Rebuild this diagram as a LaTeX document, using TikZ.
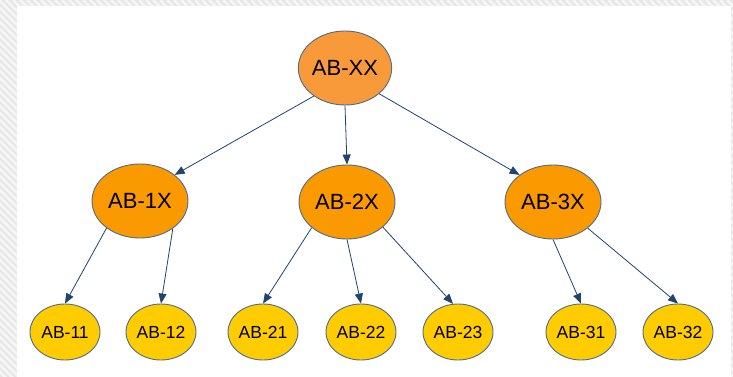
\documentclass[tikz,border=0pt]{standalone}
\usepackage{fontspec}
\setmainfont{Liberation Sans}
\usetikzlibrary{shapes.geometric,arrows.meta}
\definecolor{rootfill}{HTML}{F89A3A}
\definecolor{midfill}{HTML}{FA9A00}
\definecolor{leaffill}{HTML}{FFCC00}
\definecolor{nodeborder}{HTML}{4F6C8C}
\definecolor{edgecol}{HTML}{1F4470}
\definecolor{stripebg}{HTML}{E6E6E6}
\definecolor{stripefg}{HTML}{F6F6F6}
\tikzset{
  base/.style={ellipse, draw=nodeborder, line width=0.9pt, inner sep=0pt, text=black},
  rootnode/.style={base, fill=rootfill, minimum width=92pt, minimum height=74pt, font=\fontsize{22}{24}\selectfont},
  midnode/.style={base, fill=midfill, minimum width=96pt, minimum height=74pt, font=\fontsize{22}{24}\selectfont},
  leafnode/.style={base, fill=leaffill, minimum width=70pt, minimum height=56pt, font=\fontsize{17.5}{20}\selectfont},
  conn/.style={draw=edgecol, line width=0.8pt, -{Triangle[length=10pt,width=8pt]}}
}
\begin{document}
\begin{tikzpicture}[x=1pt,y=-1pt]
\useasboundingbox (0,0) rectangle (733,377);
% striped frame
\begin{scope}[even odd rule]
  \clip (0,0) rectangle (733,377) (17,6) rectangle (731,377);
  \fill[stripebg] (0,0) rectangle (733,377);
  \foreach \i in {-400,-393,...,740} {
    \draw[stripefg, line width=2.6pt] (\i,0) -- (\i+400,400);
  }
\end{scope}
\fill[white] (17,6) rectangle (731,377);

\node[rootnode] (r) at (345,68) {AB-XX};
\node[midnode] (m1) at (140,201) {AB-1X};
\node[midnode] (m2) at (347,202) {AB-2X};
\node[midnode] (m3) at (553,202) {AB-3X};
\node[leafnode] (l11) at (65,332) {AB-11};
\node[leafnode] (l12) at (161,332) {AB-12};
\node[leafnode] (l21) at (263,332) {AB-21};
\node[leafnode] (l22) at (361,332) {AB-22};
\node[leafnode] (l23) at (458,332) {AB-23};
\node[leafnode] (l31) at (581,332) {AB-31};
\node[leafnode] (l32) at (678,332) {AB-32};

\draw[conn] (r.222) -- (m1.37);
\draw[conn] (r.south) -- (m2.north);
\draw[conn] (r.-37) -- (m3.141);
\draw[conn] (m1.219) -- (l11.north);
\draw[conn] (m1.-40) -- (l12.north);
\draw[conn] (m2.216) -- (l21.north);
\draw[conn] (m2.south) -- (l22.north);
\draw[conn] (m2.-35) -- (l23.100);
\draw[conn] (m3.south) -- (l31.north);
\draw[conn] (m3.-37) -- (l32.north);
\end{tikzpicture}
\end{document}
